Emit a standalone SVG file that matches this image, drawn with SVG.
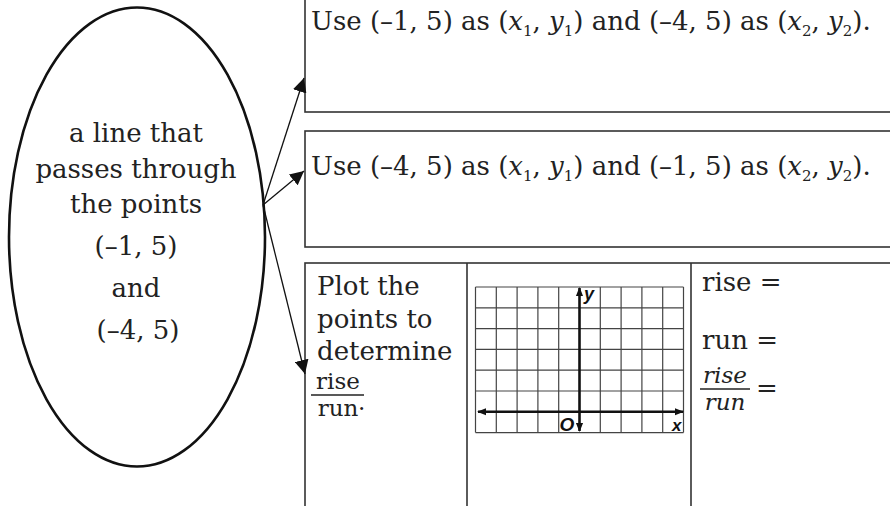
<svg xmlns="http://www.w3.org/2000/svg" width="890" height="506" viewBox="0 0 890 506">
<style>
.t{font-family:"DejaVu Serif","Liberation Serif",serif;font-size:26px;fill:#222}
.c{text-anchor:middle}
.i{font-style:italic}
.sub{font-size:15px}
.box{fill:none;stroke:#333;stroke-width:1.6}
.grid{stroke:#444;stroke-width:1.2;fill:none}
.axis{stroke:#111;stroke-width:2.6;fill:none}
.lab{font-family:"Liberation Sans","DejaVu Sans",sans-serif;font-style:italic;font-weight:bold;fill:#111}
.conn{stroke:#111;stroke-width:1.3;fill:none}
</style>
<defs>
<marker id="ah" viewBox="0 0 10 10" refX="10" refY="5" markerWidth="14" markerHeight="14" markerUnits="userSpaceOnUse" orient="auto">
<path d="M0,0 L10,5 L0,10 z" fill="#111"/>
</marker>
<marker id="ax" viewBox="0 0 10 10" refX="9" refY="5" markerWidth="9" markerHeight="9" markerUnits="userSpaceOnUse" orient="auto-start-reverse">
<path d="M0,1 L10,5 L0,9 z" fill="#111"/>
</marker>
</defs>

<g id="source">
<ellipse cx="137" cy="237" rx="128" ry="229.5" fill="none" stroke="#111" stroke-width="2.6"/>
<text class="t c" x="136" y="142">a line that</text>
<text class="t c" x="136" y="178">passes through</text>
<text class="t c" x="136" y="213">the points</text>
<text class="t c" x="136" y="255">(–1, 5)</text>
<text class="t c" x="136" y="297">and</text>
<text class="t c" x="138" y="339">(–4, 5)</text>
</g>

<g id="option1">
<rect class="box" x="305" y="-5" width="600" height="117"/>
<text class="t" x="311" y="30">Use (–1, 5) as (<tspan class="i">x</tspan><tspan class="sub" dy="6">1</tspan><tspan dy="-6">, </tspan><tspan class="i">y</tspan><tspan class="sub" dy="6">1</tspan><tspan dy="-6">) and (–4, 5) as (</tspan><tspan class="i">x</tspan><tspan class="sub" dy="6">2</tspan><tspan dy="-6">, </tspan><tspan class="i">y</tspan><tspan class="sub" dy="6">2</tspan><tspan dy="-6">).</tspan></text>
</g>

<g id="option2">
<rect class="box" x="305" y="131" width="600" height="116"/>
<text class="t" x="311" y="175">Use (–4, 5) as (<tspan class="i">x</tspan><tspan class="sub" dy="6">1</tspan><tspan dy="-6">, </tspan><tspan class="i">y</tspan><tspan class="sub" dy="6">1</tspan><tspan dy="-6">) and (–1, 5) as (</tspan><tspan class="i">x</tspan><tspan class="sub" dy="6">2</tspan><tspan dy="-6">, </tspan><tspan class="i">y</tspan><tspan class="sub" dy="6">2</tspan><tspan dy="-6">).</tspan></text>
</g>

<g id="option3">
<rect class="box" x="305" y="263" width="600" height="260"/>
<line class="box" x1="467" y1="263" x2="467" y2="510"/>
<line class="box" x1="691" y1="263" x2="691" y2="510"/>
<text class="t" x="317" y="295">Plot the</text>
<text class="t" x="317" y="328">points to</text>
<text class="t" x="317" y="360">determine</text>
<text class="t c" x="338" y="389" style="font-size:23px">rise</text>
<line x1="311" y1="395" x2="364" y2="395" stroke="#222" stroke-width="1.5"/>
<text class="t c" x="338" y="416" style="font-size:23px">run</text>
<text class="t" x="358" y="410" style="font-size:23px">.</text>

<g id="grid">
<path class="grid" d="M475.5,287H683.5M475.5,307.8H683.5M475.5,328.6H683.5M475.5,349.4H683.5M475.5,370.2H683.5M475.5,391H683.5M475.5,432.6H683.5M475.5,287V432.6M496.3,287V432.6M517.1,287V432.6M537.9,287V432.6M558.7,287V432.6M600.3,287V432.6M621.1,287V432.6M641.9,287V432.6M662.7,287V432.6M683.5,287V432.6"/>
<line class="axis" x1="478" y1="411.8" x2="683" y2="411.8" marker-start="url(#ax)" marker-end="url(#ax)"/>
<line class="axis" x1="579.5" y1="288" x2="579.5" y2="431" marker-start="url(#ax)" marker-end="url(#ax)"/>
<text class="lab" x="584" y="300" font-size="18">y</text>
<text class="lab" x="567" y="431" font-size="19" text-anchor="middle">O</text>
<text class="lab" x="672" y="431" font-size="17">x</text>
</g>

<text class="t" x="702" y="291">rise =</text>
<text class="t" x="702" y="349">run =</text>
<text class="t i c" x="725" y="383" style="font-size:23px">rise</text>
<line x1="700" y1="389" x2="750" y2="389" stroke="#222" stroke-width="1.5"/>
<text class="t i c" x="725" y="410" style="font-size:23px">run</text>
<text class="t" x="756" y="397">=</text>
</g>

<g id="connectors">
<line class="conn" x1="263" y1="205" x2="304" y2="78" marker-end="url(#ah)"/>
<line class="conn" x1="263" y1="205" x2="304" y2="171" marker-end="url(#ah)"/>
<line class="conn" x1="263" y1="205" x2="305" y2="374" marker-end="url(#ah)"/>
</g>
</svg>
